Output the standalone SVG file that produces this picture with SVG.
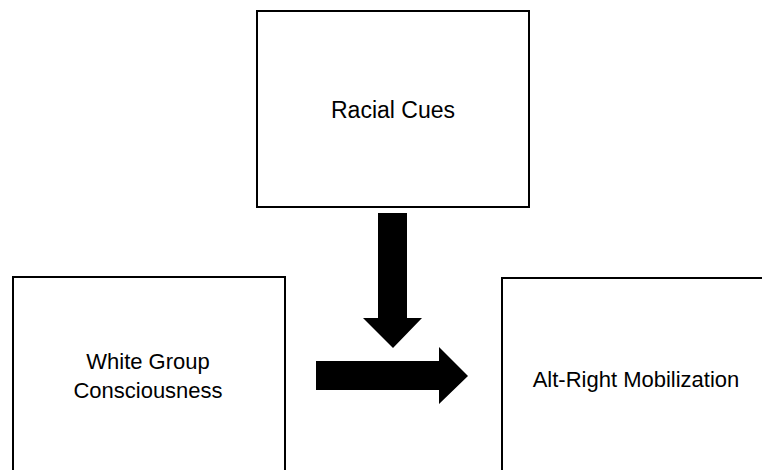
<svg xmlns="http://www.w3.org/2000/svg" width="762" height="470" viewBox="0 0 762 470">
<style>
.box{fill:#fff;stroke:#000;stroke-width:2}
.lbl{font-family:"Liberation Sans",Arial,sans-serif;font-size:22px;fill:#000;text-anchor:middle}
.arr{fill:#000;stroke:none}
</style>
<rect width="762" height="470" fill="#fff"/>
<g id="racial-cues">
<rect class="box" x="257" y="11" width="272" height="196"/>
<text class="lbl" x="393" y="118" style="font-size:23px">Racial Cues</text>
</g>
<g id="white-group-consciousness">
<rect class="box" x="13" y="277" width="272" height="210"/>
<text class="lbl" x="148" y="369">White Group</text>
<text class="lbl" x="148" y="398">Consciousness</text>
</g>
<g id="alt-right-mobilization">
<rect class="box" x="502" y="278" width="268" height="210"/>
<text class="lbl" x="636" y="387">Alt-Right Mobilization</text>
</g>
<g id="connectors">
<polygon class="arr" points="378,213 407,213 407,318 422,318 393,348 363,318 378,318"/>
<polygon class="arr" points="316,361 439,361 439,347 468,376 439,404 439,390 316,390"/>
</g>
</svg>
